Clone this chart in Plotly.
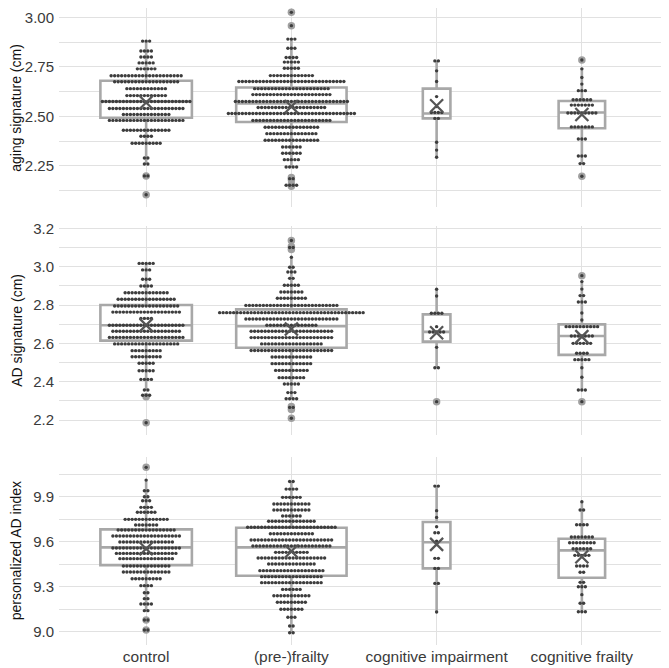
import plotly.graph_objects as go

CATEGORIES = ["control", "(pre-)frailty", "cognitive impairment", "cognitive frailty"]

# ---------------- Panel 1: aging signature (cm) ----------------
aging_control_levels = [2.88, 2.83, 2.80, 2.77, 2.74, 2.705, 2.675, 2.64, 2.605, 2.575, 2.54, 2.51, 2.48, 2.43, 2.40, 2.365, 2.29, 2.26, 2.20, 2.105]
aging_control_counts = [3, 4, 4, 5, 6, 21, 19, 12, 12, 26, 22, 14, 22, 14, 4, 9, 2, 2, 2, 1]
aging_frailty_levels = [3.025, 2.958, 2.89, 2.844, 2.797, 2.774, 2.743, 2.706, 2.676, 2.64, 2.61, 2.575, 2.545, 2.515, 2.48, 2.445, 2.413, 2.38, 2.346, 2.314, 2.282, 2.245, 2.186, 2.153]
aging_frailty_counts = [1, 1, 3, 3, 4, 5, 5, 13, 31, 22, 23, 33, 20, 37, 23, 16, 15, 16, 6, 6, 5, 4, 2, 4]
aging_ci_levels = [2.78, 2.73, 2.676, 2.60, 2.55, 2.52, 2.49, 2.37, 2.33, 2.294]
aging_ci_counts = [2, 1, 1, 1, 1, 4, 2, 1, 1, 1]
aging_cf_levels = [2.785, 2.74, 2.696, 2.663, 2.63, 2.584, 2.557, 2.517, 2.447, 2.386, 2.30, 2.262, 2.198]
aging_cf_counts = [1, 1, 1, 1, 3, 6, 7, 9, 7, 3, 3, 2, 1]
aging_q1 = [2.493, 2.472, 2.49, 2.44]
aging_median = [2.575, 2.565, 2.515, 2.52]
aging_q3 = [2.68, 2.646, 2.64, 2.578]
aging_lower = [2.26, 2.245, 2.294, 2.262]
aging_upper = [2.88, 2.89, 2.78, 2.74]
aging_mean = [2.57, 2.55, 2.554, 2.51]
aging_outliers_control = [2.20, 2.105]
aging_outliers_frailty = [3.025, 2.958, 2.192, 2.18, 2.158, 2.148]
aging_outliers_ci = []
aging_outliers_cf = [2.785, 2.198]

# ---------------- Panel 2: AD signature (cm) ----------------
ad_control_levels = [3.017, 2.983, 2.934, 2.899, 2.864, 2.83, 2.795, 2.763, 2.73, 2.694, 2.663, 2.631, 2.597, 2.562, 2.53, 2.496, 2.457, 2.412, 2.357, 2.329, 2.186]
ad_control_counts = [5, 3, 3, 4, 13, 17, 19, 20, 4, 22, 20, 22, 19, 9, 9, 5, 5, 4, 2, 3, 1]
ad_frailty_levels = [3.136, 3.10, 3.049, 2.997, 2.972, 2.939, 2.903, 2.868, 2.835, 2.798, 2.76, 2.727, 2.694, 2.663, 2.63, 2.597, 2.563, 2.529, 2.494, 2.459, 2.421, 2.388, 2.343, 2.311, 2.266, 2.209]
ad_frailty_counts = [1, 2, 1, 2, 3, 2, 5, 7, 9, 27, 42, 27, 15, 24, 24, 18, 24, 12, 12, 10, 8, 5, 3, 4, 2, 1]
ad_ci_levels = [2.882, 2.847, 2.757, 2.687, 2.659, 2.579, 2.473, 2.296]
ad_ci_counts = [1, 1, 4, 1, 5, 1, 2, 1]
ad_cf_levels = [2.953, 2.922, 2.883, 2.849, 2.816, 2.758, 2.722, 2.687, 2.638, 2.60, 2.548, 2.515, 2.473, 2.423, 2.357, 2.296]
ad_cf_counts = [1, 1, 1, 2, 3, 1, 1, 10, 7, 6, 4, 5, 1, 1, 3, 1]
ad_q1 = [2.614, 2.577, 2.609, 2.54]
ad_median = [2.694, 2.69, 2.66, 2.638]
ad_q3 = [2.80, 2.777, 2.751, 2.699]
ad_lower = [2.357, 2.311, 2.473, 2.357]
ad_upper = [3.017, 3.049, 2.882, 2.922]
ad_mean = [2.695, 2.675, 2.655, 2.635]
ad_outliers_control = [2.322, 2.186]
ad_outliers_frailty = [3.136, 3.105, 3.09, 2.27, 2.255, 2.209]
ad_outliers_ci = [2.296]
ad_outliers_cf = [2.953, 2.296]

# ---------------- Panel 3: personalized AD index ----------------
pad_control_levels = [10.096, 10.011, 9.94, 9.90, 9.873, 9.829, 9.796, 9.749, 9.711, 9.678, 9.638, 9.598, 9.558, 9.522, 9.487, 9.438, 9.398, 9.353, 9.307, 9.26, 9.22, 9.184, 9.14, 9.078, 9.011]
pad_control_counts = [1, 1, 2, 2, 3, 4, 6, 13, 7, 17, 20, 16, 20, 18, 16, 14, 14, 9, 4, 2, 2, 4, 2, 2, 2]
pad_frailty_levels = [10.002, 9.951, 9.896, 9.851, 9.811, 9.771, 9.736, 9.696, 9.653, 9.611, 9.571, 9.529, 9.491, 9.451, 9.407, 9.367, 9.327, 9.282, 9.24, 9.196, 9.149, 9.096, 9.038, 8.993]
pad_frailty_counts = [2, 4, 6, 11, 11, 6, 14, 26, 13, 24, 23, 10, 20, 14, 19, 18, 18, 6, 11, 9, 7, 3, 2, 2]
pad_ci_levels = [9.971, 9.807, 9.762, 9.70, 9.66, 9.604, 9.489, 9.422, 9.322, 9.131]
pad_ci_counts = [2, 1, 1, 1, 2, 1, 2, 2, 2, 1]
pad_cf_levels = [9.867, 9.811, 9.713, 9.631, 9.593, 9.553, 9.509, 9.438, 9.396, 9.329, 9.30, 9.247, 9.189, 9.133]
pad_cf_counts = [1, 2, 4, 7, 8, 6, 5, 4, 2, 2, 3, 1, 2, 3]
pad_q1 = [9.444, 9.373, 9.422, 9.36]
pad_median = [9.562, 9.562, 9.596, 9.542]
pad_q3 = [9.682, 9.693, 9.731, 9.62]
pad_lower = [9.14, 8.993, 9.131, 9.133]
pad_upper = [10.011, 10.002, 9.971, 9.867]
pad_mean = [9.553, 9.536, 9.582, 9.50]
pad_outliers_control = [10.096, 9.078, 9.011]
pad_outliers_frailty = []
pad_outliers_ci = []
pad_outliers_cf = []

Y_TITLES = ["aging signature (cm)", "AD signature (cm)", "personalized AD index"]

# ---------------- styling ----------------
FONT = "Liberation Sans, Arial, sans-serif"
BOX_WIDTHS = [0.63, 0.76, 0.19, 0.32]
DOT_STEP = 0.0241
DOT_COLOR = "#3d3d3d"
BOX_COLOR = "#a8a8a8"
OUTLIER_COLOR = "#a0a0a0"
MEAN_COLOR = "#555555"
GRID = "#e1e1e1"
TICK_COLOR = "#3a3a3a"

# The page body adds an 8px offset, so the figure is 8px smaller than the window.
W, H = 661, 660
M_L, M_R, M_T, M_B = 51, 0, 0, 23
PLOT_H = H - M_T - M_B

panels = [
    dict(levels=[aging_control_levels, aging_frailty_levels, aging_ci_levels, aging_cf_levels],
         counts=[aging_control_counts, aging_frailty_counts, aging_ci_counts, aging_cf_counts],
         q1=aging_q1, med=aging_median, q3=aging_q3, lo=aging_lower, hi=aging_upper, mean=aging_mean,
         out=[aging_outliers_control, aging_outliers_frailty, aging_outliers_ci, aging_outliers_cf],
         rng=[2.043, 3.047], dtick=0.25, fmt=".2f", dom_px=(0, 199)),
    dict(levels=[ad_control_levels, ad_frailty_levels, ad_ci_levels, ad_cf_levels],
         counts=[ad_control_counts, ad_frailty_counts, ad_ci_counts, ad_cf_counts],
         q1=ad_q1, med=ad_median, q3=ad_q3, lo=ad_lower, hi=ad_upper, mean=ad_mean,
         out=[ad_outliers_control, ad_outliers_frailty, ad_outliers_ci, ad_outliers_cf],
         rng=[2.122, 3.212], dtick=0.2, fmt=".1f", dom_px=(218, 427)),
    dict(levels=[pad_control_levels, pad_frailty_levels, pad_ci_levels, pad_cf_levels],
         counts=[pad_control_counts, pad_frailty_counts, pad_ci_counts, pad_cf_counts],
         q1=pad_q1, med=pad_median, q3=pad_q3, lo=pad_lower, hi=pad_upper, mean=pad_mean,
         out=[pad_outliers_control, pad_outliers_frailty, pad_outliers_ci, pad_outliers_cf],
         rng=[8.911, 10.165], dtick=0.3, fmt=".1f", dom_px=(449, 637)),
]

fig = go.Figure()
layout = dict(
    width=W, height=H, margin=dict(l=M_L, r=M_R, t=M_T, b=M_B, autoexpand=False),
    paper_bgcolor="white", plot_bgcolor="white", showlegend=False,
    boxmode="overlay", font=dict(family=FONT, size=15.5, color=TICK_COLOR),
    annotations=[],
)

for p_i, p in enumerate(panels):
    sfx = "" if p_i == 0 else str(p_i + 1)
    xref, yref = "x" + sfx, "y" + sfx
    for c in range(4):
        fig.add_trace(go.Box(
            x=[c], q1=[p["q1"][c]], median=[p["med"][c]], q3=[p["q3"][c]],
            lowerfence=[p["lo"][c]], upperfence=[p["hi"][c]],
            width=BOX_WIDTHS[c], fillcolor="white",
            line=dict(color=BOX_COLOR, width=2.6), boxpoints=False,
            whiskerwidth=0, xaxis=xref, yaxis=yref, hoverinfo="skip"))
    ox, oy = [], []
    for c in range(4):
        for v in p["out"][c]:
            ox.append(c)
            oy.append(v)
    fig.add_trace(go.Scatter(x=ox, y=oy, mode="markers", xaxis=xref, yaxis=yref,
                             marker=dict(size=7.5, color=OUTLIER_COLOR), hoverinfo="skip"))
    dx, dy = [], []
    for c in range(4):
        for lev, n in zip(p["levels"][c], p["counts"][c]):
            for k in range(n):
                dx.append(c + (k - (n - 1) / 2) * DOT_STEP)
                dy.append(lev)
    fig.add_trace(go.Scatter(x=dx, y=dy, mode="markers", xaxis=xref, yaxis=yref,
                             marker=dict(size=3.4, color=DOT_COLOR, line=dict(width=0)),
                             hoverinfo="skip"))
    fig.add_trace(go.Scatter(x=list(range(4)), y=p["mean"], mode="markers", xaxis=xref, yaxis=yref,
                             marker=dict(symbol="x-thin", size=13, color=MEAN_COLOR,
                                         line=dict(width=2.3, color=MEAN_COLOR)),
                             hoverinfo="skip"))

    top_px, bot_px = p["dom_px"]
    dom = [1 - (bot_px - M_T) / PLOT_H, 1 - (top_px - M_T) / PLOT_H]
    layout["xaxis" + sfx] = dict(
        domain=[0, 1], anchor=yref, range=[-0.6, 3.6], automargin=False,
        tickmode="array", tickvals=[0, 1, 2, 3], ticktext=CATEGORIES,
        showticklabels=(p_i == 2), showgrid=True, gridcolor=GRID, gridwidth=1.1,
        zeroline=False, showline=False, ticks="",
        tickfont=dict(family=FONT, size=15.5, color=TICK_COLOR),
    )
    layout["yaxis" + sfx] = dict(
        domain=dom, anchor=xref, range=p["rng"], automargin=False,
        tickmode="linear", tick0=0, dtick=p["dtick"], tickformat=p["fmt"],
        showgrid=True, gridcolor=GRID, gridwidth=1.1,
        minor=dict(tickmode="linear", tick0=0, dtick=p["dtick"] / 2, showgrid=True,
                   gridcolor=GRID, gridwidth=0.8),
        zeroline=False, showline=False, ticks="", ticklabelstandoff=4,
        tickfont=dict(family=FONT, size=15, color=TICK_COLOR),
    )
    layout["annotations"].append(dict(
        text=Y_TITLES[p_i], xref="paper", yref="paper", x=(8.3 - M_L) / (W - M_L - M_R),
        y=(dom[0] + dom[1]) / 2, xanchor="center", yanchor="middle", textangle=-90,
        showarrow=False, font=dict(family=FONT, size=14, color="#111111")))

fig.update_layout(**layout)
fig.write_html("out.html")
